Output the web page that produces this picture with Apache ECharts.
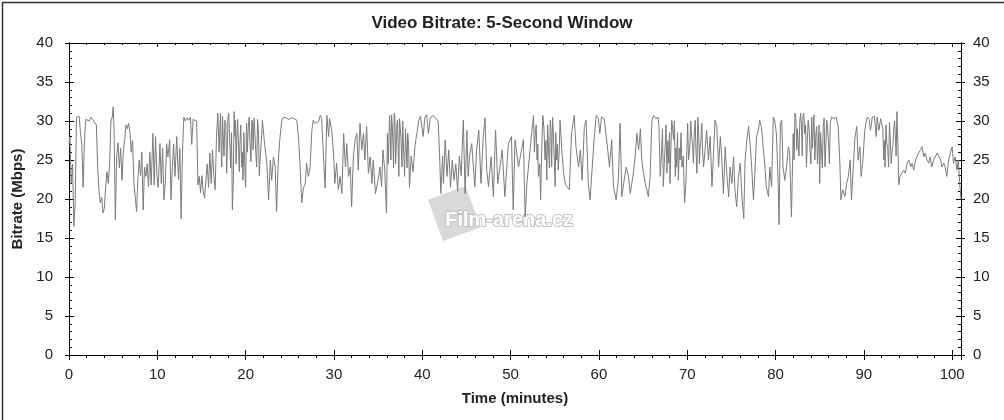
<!DOCTYPE html>
<html><head><meta charset="utf-8">
<script src="https://cdn.jsdelivr.net/npm/echarts@6/dist/echarts.min.js"></script>
<style>html,body{margin:0;padding:0;background:#fff}#c{width:1004px;height:420px}</style>
</head><body><div id="c"></div>
<script>
const chartTitle = 'Video Bitrate: 5-Second Window';
const xAxisName = 'Time (minutes)';
const yAxisName = 'Bitrate (Mbps)';
const watermarkText = 'Film-arena.cz';

// main trace (minutes, Mbps)
const timeMin = [
0.0,0.1,0.25,0.4,0.55,0.7,0.85,1.0,1.15,1.3,
1.45,1.6,1.75,1.9,2.1,2.3,2.5,2.7,2.9,3.1,
3.25,3.4,3.55,3.7,3.85,4.0,4.15,4.3,4.45,4.6,
4.75,4.9,5.0,5.1,5.25,5.4,5.55,5.7,5.85,6.0,
6.15,6.3,6.45,6.6,6.75,6.9,7.05,7.2,7.35,7.5,
7.65,7.8,7.95,8.1,8.25,8.4,8.55,8.7,8.85,9.0,
9.15,9.3,9.5,9.65,9.8,9.95,10.1,10.3,10.45,10.6,
10.75,10.9,11.05,11.2,11.4,11.55,11.7,11.85,12.0,12.2,
12.4,12.55,12.7,12.85,13.0,13.15,13.35,13.55,13.75,13.9,
14.05,14.25,14.45,14.6,14.75,14.9,15.05,15.2,15.35,15.5,
15.65,15.8,15.95,16.1,16.25,16.4,16.55,16.7,16.85,17.0,
17.15,17.3,17.45,17.65,17.85,18.0,18.15,18.3,18.5,18.7,
18.85,19.0,19.2,19.35,19.55,19.7,19.9,20.1,20.3,20.5,
20.7,20.85,21.05,21.25,21.45,21.65,21.9,22.1,22.4,22.6,
22.8,22.95,23.15,23.35,23.5,23.7,23.9,24.1,24.3,24.6,
24.9,25.2,25.5,25.8,26.0,26.15,26.35,26.55,26.75,26.9,
27.1,27.3,27.5,27.65,27.85,28.05,28.25,28.45,28.6,28.8,
29.0,29.2,29.4,29.5,29.75,29.95,30.1,30.3,30.5,30.7,
30.9,31.1,31.3,31.45,31.65,31.85,32.0,32.2,32.4,32.6,
32.75,32.95,33.15,33.35,33.5,33.7,33.9,34.1,34.3,34.45,
34.7,34.85,35.0,35.2,35.4,35.55,35.75,35.95,36.05,36.3,
36.45,36.6,36.75,36.9,37.05,37.2,37.35,37.5,37.7,37.85,
38.0,38.2,38.35,38.55,38.75,38.95,39.2,39.4,39.6,39.8,
40.1,40.3,40.5,40.7,40.9,41.2,41.5,41.8,41.95,42.1,
42.3,42.4,42.6,42.8,43.0,43.2,43.4,43.6,43.8,44.0,
44.2,44.4,44.65,44.85,45.05,45.2,45.35,45.6,45.95,46.15,
46.4,46.65,46.9,47.1,47.3,47.5,47.8,48.05,48.3,48.55,
48.8,49.05,49.35,49.75,50.1,50.3,50.5,50.9,51.1,51.45,
51.65,51.85,52.2,52.6,52.8,53.0,53.15,53.4,53.65,53.9,
54.1,54.3,54.5,54.65,54.85,55.05,55.2,55.4,55.6,55.8,
56.0,56.2,56.35,56.65,56.9,57.2,57.4,57.7,57.9,58.1,
58.35,58.55,58.8,59.0,59.2,59.45,59.7,59.95,60.1,60.3,
60.6,60.8,61.0,61.2,61.45,61.65,61.95,62.2,62.4,62.6,
62.8,63.1,63.35,63.55,63.9,64.1,64.3,64.5,64.7,64.85,
65.05,65.25,65.6,65.8,66.0,66.2,66.45,66.7,66.8,66.95,
67.1,67.3,67.5,67.7,67.9,68.05,68.25,68.45,68.65,68.8,
69.0,69.2,69.4,69.7,69.85,70.05,70.3,70.5,70.7,70.9,
71.1,71.3,71.45,71.65,71.85,72.05,72.2,72.4,72.6,72.8,
73.0,73.15,73.35,73.55,73.75,73.9,74.1,74.3,74.5,74.7,
74.85,75.05,75.25,75.4,75.6,75.8,76.0,76.2,76.4,76.55,
76.75,76.95,77.15,77.3,77.5,77.65,77.85,78.05,78.2,78.4,
78.6,78.8,78.95,79.2,79.35,79.55,79.75,79.9,80.1,80.3,
80.4,80.55,80.7,80.85,81.05,81.25,81.45,81.6,81.8,82.0,
82.2,82.4,82.55,82.75,82.95,83.1,83.3,83.5,83.7,83.9,
84.1,84.25,84.45,84.65,84.85,85.0,85.2,85.4,85.6,85.8,
86.0,86.2,86.35,86.6,86.85,87.1,87.3,87.4,87.6,87.85,
88.05,88.25,88.45,88.6,88.8,89.0,89.2,89.35,89.55,89.7,
89.9,90.1,90.3,90.4,90.6,90.75,90.95,91.1,91.3,91.5,
91.7,91.9,92.05,92.25,92.4,92.6,92.8,93.0,93.2,93.4,
93.55,93.75,93.85,93.95,94.1,94.3,94.5,94.7,94.9,95.1,
95.3,95.45,95.65,95.85,96.0,96.2,96.4,96.6,96.8,96.95,
97.15,97.35,97.5,97.7,97.9,98.1,98.3,98.5,98.7,98.85,
99.05,99.2,99.4,99.6,99.8,100.0,100.15,100.35,100.55,100.7,
100.85,101.0
];

const bitrateMbps = [
27.0,28.0,22.0,24.5,16.5,19.5,30.5,30.3,30.6,28.5,
27.0,21.5,27.5,30.2,30.4,30.0,30.5,30.2,30.4,29.5,
24.0,21.0,19.5,20.2,18.2,18.8,21.5,23.5,22.0,24.5,
30.0,30.5,31.8,29.0,17.3,25.5,27.2,24.0,26.5,22.4,
26.0,27.5,29.5,29.0,29.7,28.5,26.0,27.5,22.0,20.3,
18.4,22.5,25.0,23.0,26.0,18.6,24.1,22.9,24.5,21.6,
26.0,21.8,28.4,21.8,28.0,23.0,21.5,27.1,22.0,26.5,
19.9,22.0,27.1,25.4,27.6,19.9,24.0,27.0,22.9,28.0,
22.5,26.5,17.5,26.0,30.5,30.0,30.4,30.1,30.5,27.0,
30.2,30.4,30.0,21.8,22.9,20.8,23.0,21.0,20.1,22.5,
24.5,21.5,25.9,22.0,26.3,23.0,21.2,28.0,31.0,26.0,
31.0,24.1,28.5,30.1,23.3,30.5,29.0,24.0,18.6,31.2,
30.1,27.5,26.3,27.0,24.1,22.4,24.0,29.7,29.3,27.1,
30.1,26.3,28.4,24.1,28.8,25.4,30.1,27.6,24.6,19.9,
25.0,22.4,25.4,24.1,18.4,25.0,28.0,30.1,30.5,30.4,
30.2,30.4,30.3,30.1,27.6,24.6,19.5,21.4,22.0,24.6,
22.9,24.1,28.8,30.1,29.7,29.5,29.9,30.7,30.3,30.1,
21.4,30.7,28.0,30.3,28.8,25.9,22.0,24.6,21.2,22.9,
20.7,28.4,24.1,27.1,22.9,24.1,19.0,25.4,27.6,28.4,
23.7,29.7,26.3,28.4,25.0,29.3,23.3,25.4,22.0,25.0,
20.7,21.6,22.4,24.1,21.6,26.3,23.7,18.2,28.4,30.7,
25.0,29.5,24.0,30.5,26.5,30.1,22.9,29.3,24.1,27.6,
22.9,26.3,28.4,21.5,25.5,23.5,27.0,28.5,30.1,30.6,
28.0,30.5,30.8,28.4,30.4,30.7,30.4,30.0,26.0,20.7,
25.5,22.0,27.6,22.9,26.3,21.5,25.0,22.4,24.5,21.0,
25.5,23.0,30.1,20.7,28.8,22.9,25.5,27.1,21.6,26.3,
28.8,22.0,28.0,30.4,23.7,21.6,25.4,20.3,28.8,22.0,
24.1,26.3,20.3,27.1,28.0,18.6,27.6,24.1,25.4,27.6,
17.7,22.0,26.3,30.7,28.4,25.0,22.9,19.9,30.7,25.0,
22.4,26.3,30.1,24.1,28.4,21.6,25.0,23.7,30.1,26.3,
23.3,22.0,21.6,21.2,28.4,30.7,26.7,24.1,26.3,22.4,
29.3,30.1,22.0,19.9,23.3,27.6,30.7,30.3,28.4,30.5,
30.3,30.5,26.3,24.1,27.6,21.6,19.9,22.4,29.7,20.3,
22.0,24.1,22.9,20.7,23.3,25.4,28.4,26.3,29.0,25.0,
23.3,22.0,20.3,22.9,30.1,30.7,30.3,30.5,29.3,22.9,
26.3,21.6,26.7,23.3,24.6,22.0,30.1,27.6,22.9,24.1,
22.4,25.0,24.1,19.5,22.0,29.7,26.7,28.0,24.6,30.1,
23.3,28.4,26.3,29.7,24.1,26.7,28.8,25.0,28.0,21.6,
26.3,30.1,29.3,24.1,28.0,25.4,20.7,26.7,22.9,20.3,
24.1,22.0,25.4,21.2,19.0,22.9,24.6,20.3,17.5,25.0,
27.6,29.3,26.7,24.1,19.9,23.0,28.0,28.8,30.1,29.3,
26.7,24.1,21.6,20.3,24.1,21.6,30.5,30.1,28.4,22.0,
16.7,29.7,30.1,24.1,22.4,24.1,26.7,25.9,17.7,28.4,
31.0,26.3,27.6,30.1,28.8,30.5,28.4,24.1,30.1,26.3,
30.5,28.4,25.0,29.3,27.1,22.0,26.3,29.3,24.1,30.1,
27.1,29.7,30.5,30.3,30.5,29.3,24.1,19.9,21.2,20.3,
22.0,22.9,25.0,19.9,24.1,28.0,29.3,25.0,26.7,22.9,
25.0,28.8,30.1,30.5,30.2,28.8,30.5,30.4,29.3,30.5,
28.8,30.3,30.1,25.0,24.1,27.1,24.1,27.6,26.3,29.3,
28.4,31.2,27.1,21.8,22.9,23.3,23.7,23.3,24.6,25.0,
24.1,24.6,23.7,25.0,25.4,25.9,26.3,26.7,25.4,25.9,
25.0,24.6,25.4,24.1,25.0,24.8,25.9,26.1,25.0,24.1,
24.6,24.1,22.9,25.0,25.9,26.7,24.6,25.4,23.7,25.0,
22.0,20.0
];

// extra samples read in the densest stretches of the trace
const denseTimeMin = [
17.22,17.38,17.55,17.75,17.93,18.08,18.22,18.4,18.6,18.78,
18.92,19.1,19.28,19.45,19.62,19.8,20.0,20.2,20.4,20.6,
20.78,20.95,21.15,21.35,21.55,21.78,
36.15,36.38,36.52,36.68,36.82,36.98,37.12,37.28,37.42,37.6,
37.78,37.92,38.1,38.28,38.45,
52.7,52.9,53.08,53.3,53.55,53.78,54.0,54.2,54.4,54.58,
54.75,54.95,55.12,55.3,55.5,
67.2,67.4,67.6,67.8,68.0,68.15,68.35,68.55,68.72,68.9,
69.1,69.3,69.55,70.15,70.4,70.6,70.8,71.0,71.2,71.38,
71.55,71.75,
82.1,82.3,82.48,82.65,82.85,83.02,83.2,83.4,83.6,83.8,
84.0,84.18,84.35,84.55,84.75,84.92,85.1,85.3,85.5,85.7,
85.9,86.1,
91.2,91.4,91.6,92.15,92.33,92.5,92.7,92.9,93.1,93.3,
93.48,93.65
];
const denseBitrateMbps = [
27.0,30.6,25.5,29.8,26.5,31.0,26.8,28.5,22.0,28.0,
24.5,30.2,23.5,29.5,26.0,28.5,21.5,26.0,30.5,24.8,
29.5,30.4,26.0,30.2,23.0,27.5,
24.5,28.0,30.8,27.0,31.0,24.5,29.5,26.0,30.3,27.5,
30.0,25.5,29.0,24.0,27.0,
26.0,29.5,27.0,24.5,27.5,29.0,27.5,29.5,24.0,28.5,
30.5,25.0,28.5,27.0,26.0,
29.0,24.5,29.5,27.5,28.5,26.5,29.0,30.0,26.5,28.5,
26.5,28.5,25.5,25.0,30.0,27.0,28.5,26.0,30.5,24.5,
27.5,26.0,
25.0,30.5,29.0,25.5,31.0,25.5,31.0,29.5,27.5,29.0,
24.5,26.5,30.8,28.0,24.5,29.5,28.5,24.0,30.4,27.0,
29.0,24.5,
30.6,28.0,30.6,29.0,27.5,29.5,26.5,29.8,24.5,27.0,
30.0,25.5
];

const xMin = 0, xMax = 101, xStep = 10;
const yMin = 0, yMax = 40, yStep = 5;

if (timeMin.length !== bitrateMbps.length) console.error('length mismatch main', timeMin.length, bitrateMbps.length);
if (denseTimeMin.length !== denseBitrateMbps.length) console.error('length mismatch dense', denseTimeMin.length, denseBitrateMbps.length);
const seriesData = timeMin.map((t, i) => [t, bitrateMbps[i]])
  .concat(denseTimeMin.map((t, i) => [t, denseBitrateMbps[i]]))
  .sort((a, b) => a[0] - b[0]);

const FONT = '"Liberation Sans", Arial, sans-serif';
const INK = '#000';
const lbl = { color: '#222', fontSize: 15, fontFamily: FONT };

function xAx(extra) {
  return Object.assign({
    type: 'value', min: xMin, max: xMax, interval: xStep,
    axisLine: { show: true, onZero: false, lineStyle: { color: INK, width: 1 } },
    splitLine: { show: false },
    axisLabel: { show: false }
  }, extra);
}
function yAx(extra) {
  return Object.assign({
    type: 'value', min: yMin, max: yMax, interval: yStep,
    axisLine: { show: true, onZero: false, lineStyle: { color: INK, width: 1 } },
    splitLine: { show: false },
    axisLabel: { show: false }
  }, extra);
}

const chart = echarts.init(document.getElementById('c'), null, { renderer: 'canvas' });
chart.setOption({
  animation: false,
  backgroundColor: '#fff',
  title: {
    text: chartTitle, left: 'center', top: 10,
    textStyle: { fontFamily: FONT, fontSize: 17, fontWeight: 'bold', color: '#222' }
  },
  grid: { left: 69, right: 43, top: 43, bottom: 65, containLabel: false },
  xAxis: [
    xAx({ position: 'bottom',
      axisTick: { show: true, inside: false, length: 5, lineStyle: { color: INK } },
      minorTick: { show: true, splitNumber: 5, length: 3, lineStyle: { color: INK } },
      axisLabel: Object.assign({ show: true, margin: 12, showMaxLabel: false }, lbl),
      name: xAxisName, nameLocation: 'middle', nameGap: 36,
      nameTextStyle: { fontFamily: FONT, fontSize: 15, fontWeight: 'bold', color: '#222' } }),
    xAx({ position: 'bottom',
      axisTick: { show: true, inside: true, length: 5, lineStyle: { color: INK } },
      minorTick: { show: false } }),
    xAx({ position: 'top',
      axisTick: { show: true, inside: true, length: 4, lineStyle: { color: INK } },
      minorTick: { show: true, splitNumber: 5, length: 2, lineStyle: { color: INK } } })
  ],
  yAxis: [
    yAx({ position: 'left',
      axisTick: { show: true, inside: false, length: 4, lineStyle: { color: INK } },
      axisLabel: Object.assign({ show: true, margin: 16 }, lbl),
      name: yAxisName, nameLocation: 'middle', nameGap: 42,
      nameTextStyle: { fontFamily: FONT, fontSize: 15, fontWeight: 'bold', color: '#222' } }),
    yAx({ position: 'left',
      axisTick: { show: true, inside: true, length: 5, lineStyle: { color: INK } },
      minorTick: { show: true, splitNumber: 5, length: 3, lineStyle: { color: INK } } }),
    yAx({ position: 'right',
      axisTick: { show: true, inside: false, length: 4, lineStyle: { color: INK } },
      axisLabel: Object.assign({ show: true, margin: 12 }, lbl) }),
    yAx({ position: 'right',
      axisTick: { show: true, inside: true, length: 5, lineStyle: { color: INK } },
      minorTick: { show: true, splitNumber: 5, length: 3, lineStyle: { color: INK } } })
  ],
  graphic: [
    { type: 'rect', left: 0, top: 0, silent: true, z: 100,
      shape: { x: 0.5, y: 0.5, width: 1003, height: 419 },
      style: { fill: 'none', stroke: '#333', lineWidth: 1.5 } },
    { type: 'group', left: 428, top: 186, silent: true, z: 0,
      children: [
        { type: 'rect', rotation: 0.35, shape: { x: 0, y: 14, width: 40, height: 44 },
          style: { fill: '#d9d9d9' } },
        { type: 'text', style: { x: 22, y: 24, text: watermarkText, fill: '#fff',
          stroke: '#c4c4c4', lineWidth: 2,
          font: 'bold 20px "Liberation Sans", Arial, sans-serif' } }
      ] }
  ],
  series: [{
    type: 'line', xAxisIndex: 0, yAxisIndex: 0,
    data: seriesData, showSymbol: false, z: 5,
    lineStyle: { color: '#7b7b7b', width: 1 }
  }]
});
</script>
</body></html>
